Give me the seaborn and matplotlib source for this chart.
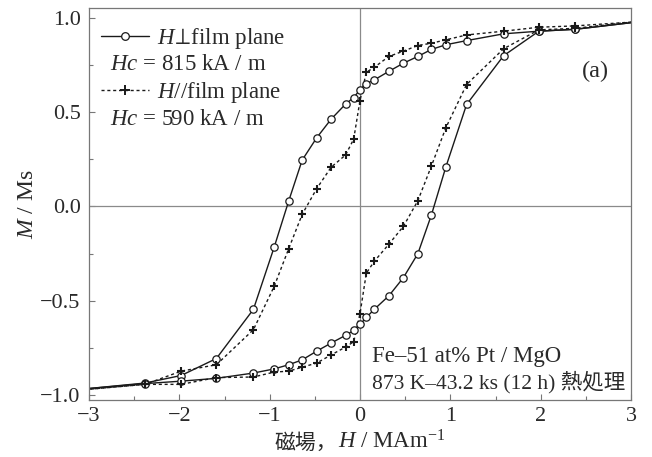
import matplotlib
matplotlib.use("Agg")
import matplotlib.pyplot as plt
from matplotlib.lines import Line2D
from matplotlib.ticker import FixedLocator, MultipleLocator
from matplotlib.offsetbox import TextArea, HPacker, AnchoredOffsetbox
import seaborn as sns
import pandas as pd

# ---------------- data ----------------
# H perpendicular to film plane: descending branch (from +H to -H)
perp_up_H = [2.38, 1.98, 1.59, 1.18, 0.95, 0.79, 0.64, 0.48, 0.32, 0.16, 0.07, 0.0,
             -0.07, -0.16, -0.32, -0.48, -0.64, -0.79, -0.95, -1.18, -1.59, -1.98, -2.38]
perp_up_M = [0.940, 0.930, 0.916, 0.880, 0.858, 0.833, 0.796, 0.760, 0.717, 0.672, 0.652, 0.619,
             0.578, 0.543, 0.463, 0.364, 0.246, 0.028, -0.216, -0.546, -0.807, -0.897, -0.937]
# ascending branch (from -H to +H)
perp_low_H = [-2.38, -1.98, -1.59, -1.18, -0.95, -0.79, -0.64, -0.48, -0.32, -0.16, -0.07, 0.0,
              0.07, 0.16, 0.32, 0.48, 0.64, 0.79, 0.95, 1.18, 1.59, 1.98, 2.38]
perp_low_M = [-0.940, -0.927, -0.912, -0.884, -0.862, -0.840, -0.814, -0.768, -0.725, -0.684, -0.658, -0.626,
              -0.589, -0.545, -0.474, -0.378, -0.251, -0.046, 0.209, 0.541, 0.800, 0.930, 0.940]

# H parallel to film plane
par_up_H = [2.38, 1.98, 1.59, 1.18, 0.95, 0.79, 0.64, 0.48, 0.32, 0.16, 0.07, 0.0,
            -0.07, -0.16, -0.32, -0.48, -0.64, -0.79, -0.95, -1.18, -1.59, -1.98, -2.38]
par_up_M = [0.958, 0.951, 0.930, 0.910, 0.884, 0.866, 0.854, 0.824, 0.796, 0.739, 0.712, 0.562,
            0.357, 0.273, 0.208, 0.094, -0.042, -0.225, -0.424, -0.654, -0.840, -0.874, -0.944]
par_low_H = [-2.38, -1.98, -1.59, -1.18, -0.95, -0.79, -0.64, -0.48, -0.32, -0.16, -0.07, 0.0,
             0.07, 0.16, 0.32, 0.48, 0.64, 0.79, 0.95, 1.18, 1.59, 1.98, 2.38]
par_low_M = [-0.944, -0.944, -0.908, -0.905, -0.879, -0.874, -0.853, -0.831, -0.788, -0.746, -0.718, -0.569,
             -0.354, -0.290, -0.200, -0.106, 0.030, 0.214, 0.417, 0.647, 0.837, 0.937, 0.945]

# saturation values of the curves at the plot edges (H = +3 / -3)
edge_H = [3.0, -3.0]
perp_edge_M = [0.975, -0.966]
par_edge_M = [0.978, -0.970]

x_ticks = [-3, -2, -1, 0, 1, 2, 3]
x_ticklabels = ["\u22123", "\u22122", "\u22121", "0", "1", "2", "3"]
y_ticks = [-1.0, -0.5, 0.0, 0.5, 1.0]
y_ticklabels = ["\u22121.0", "\u22120.5", "0.0", "0.5", "1.0"]

legend_labels = ["$H\\!\\perp\\!$film plane", "$H$//film plane"]
hc_labels = ["$Hc$ = 815 kA / m", "$Hc$ = 590 kA / m"]
sample_lines = ["Fe\u201351 at% Pt / MgO", "873 K\u201343.2 ks (12 h) \u71b1\u51e6\u7406"]
xlabel_cjk = "\u78c1\u5834\uff0c"
xlabel_rest = "$H$ / MAm$^{-1}$"
ylabel = "$M$ / Ms"

# ---------------- style ----------------
sns.set_theme(style="white")
FAM = ["Liberation Serif", "DejaVu Serif", "Noto Sans CJK JP"]
plt.rcParams["font.family"] = FAM
plt.rcParams["mathtext.fontset"] = "custom"
plt.rcParams["mathtext.rm"] = "Liberation Serif"
plt.rcParams["mathtext.it"] = "Liberation Serif:italic"
plt.rcParams["mathtext.bf"] = "Liberation Serif:bold"
plt.rcParams["mathtext.fallback"] = "stix"
TXT = "#2a2a2a"
FS = 16.5
TFS = 16

fig = plt.figure(figsize=(6.52, 4.57), dpi=100)
ax = fig.add_axes([89 / 652, 1 - 400 / 457, 542 / 652, 392 / 457])

def branch(H, M, eH0, eM0, eH1, eM1):
    return pd.DataFrame({"H": [eH0] + H + [eH1], "M": [eM0] + M + [eM1]})

# zero lines
ax.axhline(0, color="#8a8a8a", lw=0.9, zorder=1)
ax.axvline(0, color="#8a8a8a", lw=0.9, zorder=1)

dash = (0, (2.2, 2.0))
# lines
sns.lineplot(data=branch(perp_up_H, perp_up_M, edge_H[0], perp_edge_M[0], edge_H[1], perp_edge_M[1]),
             x="H", y="M", sort=False, estimator=None, color="#1a1a1a", lw=1.0, ax=ax, zorder=2)
sns.lineplot(data=branch(perp_low_H, perp_low_M, edge_H[1], perp_edge_M[1], edge_H[0], perp_edge_M[0]),
             x="H", y="M", sort=False, estimator=None, color="#1a1a1a", lw=1.0, ax=ax, zorder=2)
sns.lineplot(data=branch(par_up_H, par_up_M, edge_H[0], par_edge_M[0], edge_H[1], par_edge_M[1]),
             x="H", y="M", sort=False, estimator=None, color="#1a1a1a", lw=1.0, ax=ax, zorder=2,
             linestyle=dash)
sns.lineplot(data=branch(par_low_H, par_low_M, edge_H[1], par_edge_M[1], edge_H[0], par_edge_M[0]),
             x="H", y="M", sort=False, estimator=None, color="#1a1a1a", lw=1.0, ax=ax, zorder=2,
             linestyle=dash)

# markers
sns.scatterplot(x=perp_up_H + perp_low_H, y=perp_up_M + perp_low_M, marker="o", s=28,
                facecolor="white", edgecolor="#1a1a1a", linewidth=0.9, ax=ax, zorder=3)
sns.scatterplot(x=par_up_H + par_low_H, y=par_up_M + par_low_M, marker="+", s=36,
                color="#1a1a1a", linewidth=1.5, ax=ax, zorder=4)

# axes
ax.set_xlim(-3, 3)
ax.set_ylim(-1.027, 1.053)
ax.xaxis.set_major_locator(FixedLocator(x_ticks))
ax.set_xticklabels(x_ticklabels)
ax.xaxis.set_minor_locator(MultipleLocator(0.5))
ax.yaxis.set_major_locator(FixedLocator(y_ticks))
ax.set_yticklabels(y_ticklabels)
ax.yaxis.set_minor_locator(MultipleLocator(0.25))
ax.tick_params(axis="both", which="both", direction="in", color="#777777", labelsize=TFS,
               labelcolor=TXT, bottom=True, left=True, top=False, right=False)
ax.tick_params(which="major", length=4, width=0.8)
ax.tick_params(axis="x", which="major", pad=5)
ax.tick_params(axis="y", which="major", pad=6)
ax.tick_params(which="minor", length=3, width=0.8)
for s in ax.spines.values():
    s.set_color("#777777")
    s.set_linewidth(0.9)

ax.set_xlabel("")
ax.set_ylabel(ylabel, fontsize=TFS + 1, color=TXT, labelpad=2)

# x label: CJK part + math part packed on one baseline
ta1 = TextArea(xlabel_cjk, textprops=dict(family=["Noto Sans CJK JP"], size=TFS - 1, color=TXT))
ta2 = TextArea(xlabel_rest, textprops=dict(size=TFS + 0.5, color=TXT))
pack = HPacker(children=[ta1, ta2], align="baseline", pad=0, sep=0)
anch = AnchoredOffsetbox(loc="center", child=pack, pad=0, borderpad=0, frameon=False,
                         bbox_to_anchor=(0.5, -0.108), bbox_transform=ax.transAxes)
ax.add_artist(anch)

# legend
handles = [
    Line2D([], [], color="#1a1a1a", lw=1.0, marker="o", markersize=5.5, markerfacecolor="white",
           markeredgewidth=0.9),
    Line2D([], [], color="#1a1a1a", lw=1.0, linestyle=dash, marker="+", markersize=7,
           markeredgewidth=1.4),
]
leg = ax.legend(handles, legend_labels, loc="upper left", bbox_to_anchor=(0.022, 0.955),
                frameon=False, fontsize=FS, labelspacing=1.3, handlelength=2.1,
                handletextpad=0.35, borderpad=0, borderaxespad=0)
for t in leg.get_texts():
    t.set_color(TXT)

ax.text(0.039, 0.856, hc_labels[0], transform=ax.transAxes, fontsize=FS, color=TXT, va="center")
ax.text(0.039, 0.716, hc_labels[1], transform=ax.transAxes, fontsize=FS, color=TXT, va="center")

ax.text(0.934, 0.839, "(a)", transform=ax.transAxes, fontsize=FS + 1, color=TXT, ha="center", va="center")
ax.text(0.522, 0.110, sample_lines[0], transform=ax.transAxes, fontsize=FS, color=TXT, va="center")
ax.text(0.522, 0.046, sample_lines[1], transform=ax.transAxes, fontsize=FS - 1, color=TXT, va="center")

fig.savefig("out.png", dpi=100)
